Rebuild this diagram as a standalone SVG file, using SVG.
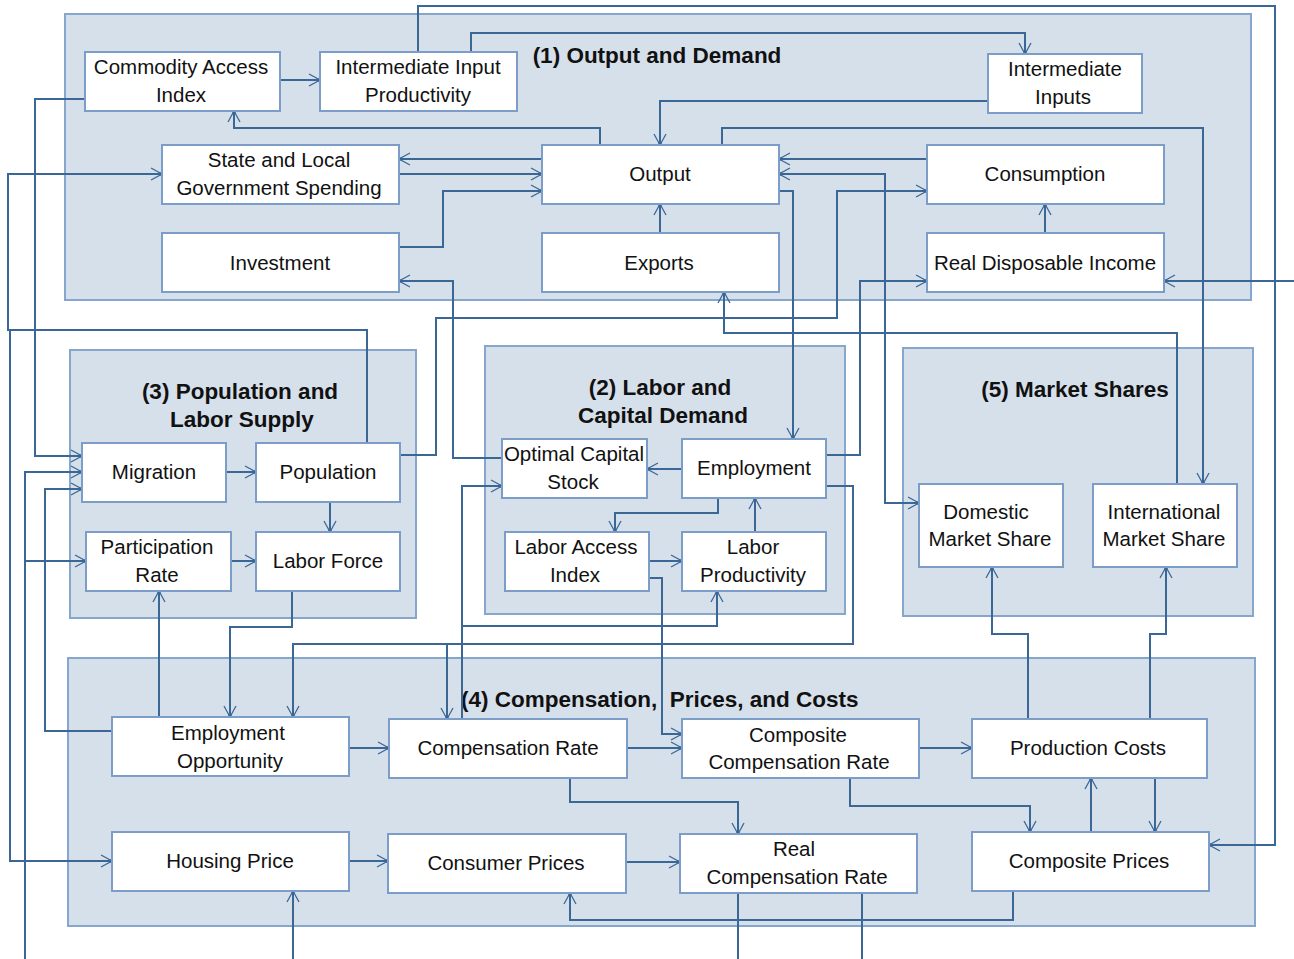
<svg xmlns="http://www.w3.org/2000/svg" width="1294" height="959" viewBox="0 0 1294 959">
<style>
.grp{fill:#D6E0EB;stroke:#86A6CD;stroke-width:2}
.nd{fill:#FFFFFF;stroke:#7C9DC7;stroke-width:2}
.t{font-family:"Liberation Sans",Arial,sans-serif;font-size:20.5px;fill:#111;text-anchor:middle}
.gt{font-family:"Liberation Sans",Arial,sans-serif;font-size:22.5px;font-weight:bold;fill:#111;text-anchor:middle}
.c{fill:none;stroke:#3B6797;stroke-width:2;marker-end:url(#ah)}
.n{fill:none;stroke:#3B6797;stroke-width:2}
</style>
<defs>
<marker id="ah" viewBox="-13 -8 15 16" refX="0" refY="0" markerWidth="15" markerHeight="16" orient="auto-start-reverse" markerUnits="userSpaceOnUse">
<path d="M-11,-6 L0,0 L-11,6" fill="none" stroke="#3B6797" stroke-width="1.3"/>
<circle cx="-1" cy="0" r="1.8" fill="#3B6797"/>
</marker>
</defs>
<rect width="1294" height="959" fill="#FFFFFF"/>

<g id="group-1"><rect class="grp" x="65" y="14" width="1186" height="286"/><text class="gt" x="657" y="63">(1) Output and Demand</text></g>
<g id="group-3"><rect class="grp" x="70" y="350" width="346" height="268"/><text class="gt" x="240" y="399">(3) Population and</text><text class="gt" x="242" y="427">Labor Supply</text></g>
<g id="group-2"><rect class="grp" x="485" y="346" width="360" height="268"/><text class="gt" x="660" y="395">(2) Labor and</text><text class="gt" x="663" y="423">Capital Demand</text></g>
<g id="group-5"><rect class="grp" x="903" y="348" width="350" height="268"/><text class="gt" x="1075" y="397">(5) Market Shares</text></g>
<g id="group-4"><rect class="grp" x="68" y="658" width="1187" height="268"/><text class="gt" x="461" y="707" style="text-anchor:start;white-space:pre" xml:space="preserve">(4) Compensation,  Prices, and Costs</text></g>

<g id="connectors">
<path class="c" d="M418,52 V6 H1275 V845 H1209"/>
<path class="c" d="M471,52 V33 H1025 V54"/>
<path class="c" d="M280,80 H320"/>
<path class="c" d="M600,145 V128 H234 V111"/>
<path class="c" d="M988,101 H660 V145"/>
<path class="c" d="M542,159 H399"/>
<path class="c" d="M399,174 H542"/>
<path class="c" d="M399,247 H443 V191 H542"/>
<path class="c" d="M722,145 V128 H1203 V484"/>
<path class="c" d="M927,159 H779"/>
<path class="c" d="M919,503 H885 V174 H779" style="marker-start:url(#ah)"/>
<path class="c" d="M779,191 H793 V439"/>
<path class="c" d="M400,455 H436 V318 H837 V191 H927"/>
<path class="c" d="M1294,281 H1164"/>
<path class="c" d="M826,455 H860 V281 H927"/>
<path class="c" d="M1045,233 V204"/>
<path class="c" d="M1177,484 V333 H724 V292"/>
<path class="c" d="M660,233 V204"/>
<path class="c" d="M502,458 H453 V281 H399"/>
<path class="c" d="M367,443 V330 H8 V174 H162"/>
<path class="c" d="M10,330 V861 H112"/>
<path class="c" d="M85,99 H35 V456 H82"/>
<path class="c" d="M25,959 V472 H82"/>
<path class="c" d="M25,561 H86"/>
<path class="c" d="M112,731 H45 V489 H82"/>
<path class="c" d="M226,472 H256"/>
<path class="c" d="M330,502 V532"/>
<path class="c" d="M231,561 H256"/>
<path class="c" d="M167,717 H159 V591"/>
<path class="c" d="M292,591 V627 H230 V717"/>
<path class="c" d="M826,486 H853 V644 H293 V717"/>
<path class="c" d="M447,644 V719"/>
<path class="c" d="M509,719 H462 V486 H502"/>
<path class="c" d="M462,626 H717 V591"/>
<path class="c" d="M682,469 H647"/>
<path class="c" d="M718,498 V513 H615 V532"/>
<path class="c" d="M649,561 H682"/>
<path class="c" d="M755,532 V498"/>
<path class="c" d="M649,578 H662 V734 H682"/>
<path class="c" d="M627,748 H682"/>
<path class="c" d="M349,748 H389"/>
<path class="c" d="M919,748 H972"/>
<path class="c" d="M570,778 V802 H738 V834"/>
<path class="c" d="M862,778 H850 V806 H1030 V832"/>
<path class="c" d="M1091,832 V778"/>
<path class="c" d="M1155,778 V832"/>
<path class="c" d="M1028,719 V634 H992 V567"/>
<path class="c" d="M1150,719 V634 H1166 V567"/>
<path class="c" d="M349,861 H388"/>
<path class="c" d="M626,862 H680"/>
<path class="c" d="M293,959 V891"/>
<path class="c" d="M1025,891 H1013 V920 H570 V893"/>
<path class="n" d="M738,893 V959"/>
<path class="n" d="M862,893 V959"/>
</g>

<g id="node-commodity-access-index"><rect class="nd" x="85" y="52" width="195" height="59"/><text class="t" x="181" y="74">Commodity Access</text><text class="t" x="181" y="102">Index</text></g>
<g id="node-intermediate-input-productivity"><rect class="nd" x="320" y="52" width="197" height="59"/><text class="t" x="418" y="74">Intermediate Input</text><text class="t" x="418" y="102">Productivity</text></g>
<g id="node-intermediate-inputs"><rect class="nd" x="988" y="54" width="154" height="59"/><text class="t" x="1065" y="76">Intermediate</text><text class="t" x="1063" y="104">Inputs</text></g>
<g id="node-state-local-spending"><rect class="nd" x="162" y="145" width="237" height="59"/><text class="t" x="279" y="167">State and Local</text><text class="t" x="279" y="195">Government Spending</text></g>
<g id="node-output"><rect class="nd" x="542" y="145" width="237" height="59"/><text class="t" x="660" y="181">Output</text></g>
<g id="node-consumption"><rect class="nd" x="927" y="145" width="237" height="59"/><text class="t" x="1045" y="181">Consumption</text></g>
<g id="node-investment"><rect class="nd" x="162" y="233" width="237" height="59"/><text class="t" x="280" y="270">Investment</text></g>
<g id="node-exports"><rect class="nd" x="542" y="233" width="237" height="59"/><text class="t" x="659" y="270">Exports</text></g>
<g id="node-real-disposable-income"><rect class="nd" x="927" y="233" width="237" height="59"/><text class="t" x="1045" y="270">Real Disposable Income</text></g>
<g id="node-migration"><rect class="nd" x="82" y="443" width="144" height="59"/><text class="t" x="154" y="479">Migration</text></g>
<g id="node-population"><rect class="nd" x="256" y="443" width="144" height="59"/><text class="t" x="328" y="479">Population</text></g>
<g id="node-participation-rate"><rect class="nd" x="86" y="532" width="145" height="59"/><text class="t" x="157" y="554">Participation</text><text class="t" x="157" y="582">Rate</text></g>
<g id="node-labor-force"><rect class="nd" x="256" y="532" width="144" height="59"/><text class="t" x="328" y="568">Labor Force</text></g>
<g id="node-optimal-capital-stock"><rect class="nd" x="502" y="439" width="145" height="59"/><text class="t" x="574" y="461">Optimal Capital</text><text class="t" x="573" y="489">Stock</text></g>
<g id="node-employment"><rect class="nd" x="682" y="439" width="144" height="59"/><text class="t" x="754" y="475">Employment</text></g>
<g id="node-labor-access-index"><rect class="nd" x="505" y="532" width="144" height="59"/><text class="t" x="576" y="554">Labor Access</text><text class="t" x="575" y="582">Index</text></g>
<g id="node-labor-productivity"><rect class="nd" x="682" y="532" width="144" height="59"/><text class="t" x="753" y="554">Labor</text><text class="t" x="753" y="582">Productivity</text></g>
<g id="node-domestic-market-share"><rect class="nd" x="919" y="484" width="144" height="83"/><text class="t" x="986" y="519">Domestic</text><text class="t" x="990" y="546">Market Share</text></g>
<g id="node-international-market-share"><rect class="nd" x="1093" y="484" width="144" height="83"/><text class="t" x="1164" y="519">International</text><text class="t" x="1164" y="546">Market Share</text></g>
<g id="node-employment-opportunity"><rect class="nd" x="112" y="717" width="237" height="59"/><text class="t" x="228" y="740">Employment</text><text class="t" x="230" y="768">Opportunity</text></g>
<g id="node-compensation-rate"><rect class="nd" x="389" y="719" width="238" height="59"/><text class="t" x="508" y="755">Compensation Rate</text></g>
<g id="node-composite-compensation-rate"><rect class="nd" x="682" y="719" width="237" height="59"/><text class="t" x="798" y="742">Composite</text><text class="t" x="799" y="769">Compensation Rate</text></g>
<g id="node-production-costs"><rect class="nd" x="972" y="719" width="235" height="59"/><text class="t" x="1088" y="755">Production Costs</text></g>
<g id="node-housing-price"><rect class="nd" x="112" y="832" width="237" height="59"/><text class="t" x="230" y="868">Housing Price</text></g>
<g id="node-consumer-prices"><rect class="nd" x="388" y="834" width="238" height="59"/><text class="t" x="506" y="870">Consumer Prices</text></g>
<g id="node-real-compensation-rate"><rect class="nd" x="680" y="834" width="237" height="59"/><text class="t" x="794" y="856">Real</text><text class="t" x="797" y="884">Compensation Rate</text></g>
<g id="node-composite-prices"><rect class="nd" x="972" y="832" width="237" height="59"/><text class="t" x="1089" y="868">Composite Prices</text></g>
</svg>
